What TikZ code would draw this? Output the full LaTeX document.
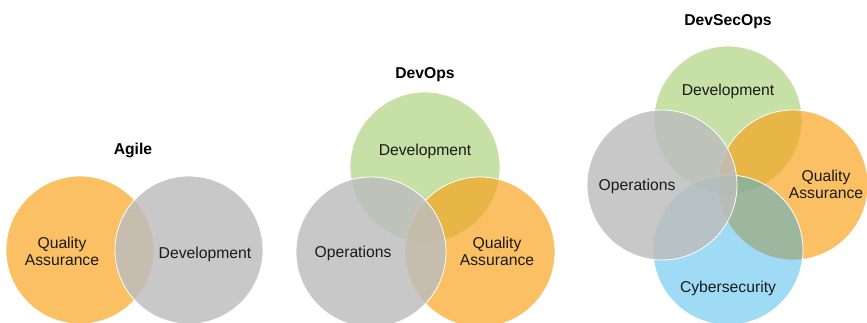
\documentclass[tikz,border=0pt]{standalone}
\usepackage{fontspec}
\usepackage{xcolor}
\setmainfont{Liberation Sans}

\definecolor{devgreen}{RGB}{198,224,166}
\definecolor{qaorange}{RGB}{249,161,26}
\definecolor{secblue}{RGB}{44,175,233}
\definecolor{opsgray}{RGB}{189,189,189}
\definecolor{labelink}{RGB}{26,26,26}

\tikzset{
  devcircle/.style={fill=devgreen, draw=white, line width=0.8pt},
  qacircle/.style={fill=qaorange, fill opacity=0.68, draw=white, line width=0.8pt},
  seccircle/.style={fill=secblue, fill opacity=0.45, draw=white, line width=0.8pt},
  opscircle/.style={fill=opsgray, fill opacity=0.83, draw=white, line width=0.8pt},
  venntext/.style={text=labelink, align=center, inner sep=0pt,
    font=\fontsize{15.7}{17}\selectfont},
  venntitle/.style={venntext, text=black, font=\fontsize{15.7}{17}\selectfont\bfseries}
}

\begin{document}
\begin{tikzpicture}[x=1pt,y=-1pt]
  % Keep the canvas the size of the reference
  \useasboundingbox (0,0) rectangle (867,322);

  % Agile
  \draw[qacircle] (80,250) circle (74pt);
  \draw[opscircle] (189,250) circle (74pt);
  \node[venntitle] (agile) at (133,150) {Agile};
  \node[venntext] (agileqa) at (62,251.5) {Quality\\Assurance};
  \node[venntext] (agiledev) at (205,254) {Development};

  % DevOps
  \draw[devcircle] (425,167) circle (75pt);
  \draw[qacircle] (480,252) circle (75pt);
  \draw[opscircle] (371,252) circle (75pt);
  \node[venntitle] (devops) at (425,75) {DevOps};
  \node[venntext] (devopsdev) at (425,151) {Development};
  \node[venntext] (devopsops) at (353,253) {Operations};
  \node[venntext] (devopsqa) at (497,251) {Quality\\Assurance};

  % DevSecOps
  \draw[devcircle] (728,120) circle (74pt);
  \draw[qacircle] (793,185) circle (75pt);
  \draw[seccircle] (728,250) circle (75pt);
  \draw[opscircle] (662,185) circle (75pt);
  \node[venntitle] (devsecops) at (728,22) {DevSecOps};
  \node[venntext] (secdev) at (728,91) {Development};
  \node[venntext] (secops) at (637,186) {Operations};
  \node[venntext] (secqa) at (826,184) {Quality\\Assurance};
  \node[venntext] (seccyber) at (728,288) {Cybersecurity};
\end{tikzpicture}
\end{document}
